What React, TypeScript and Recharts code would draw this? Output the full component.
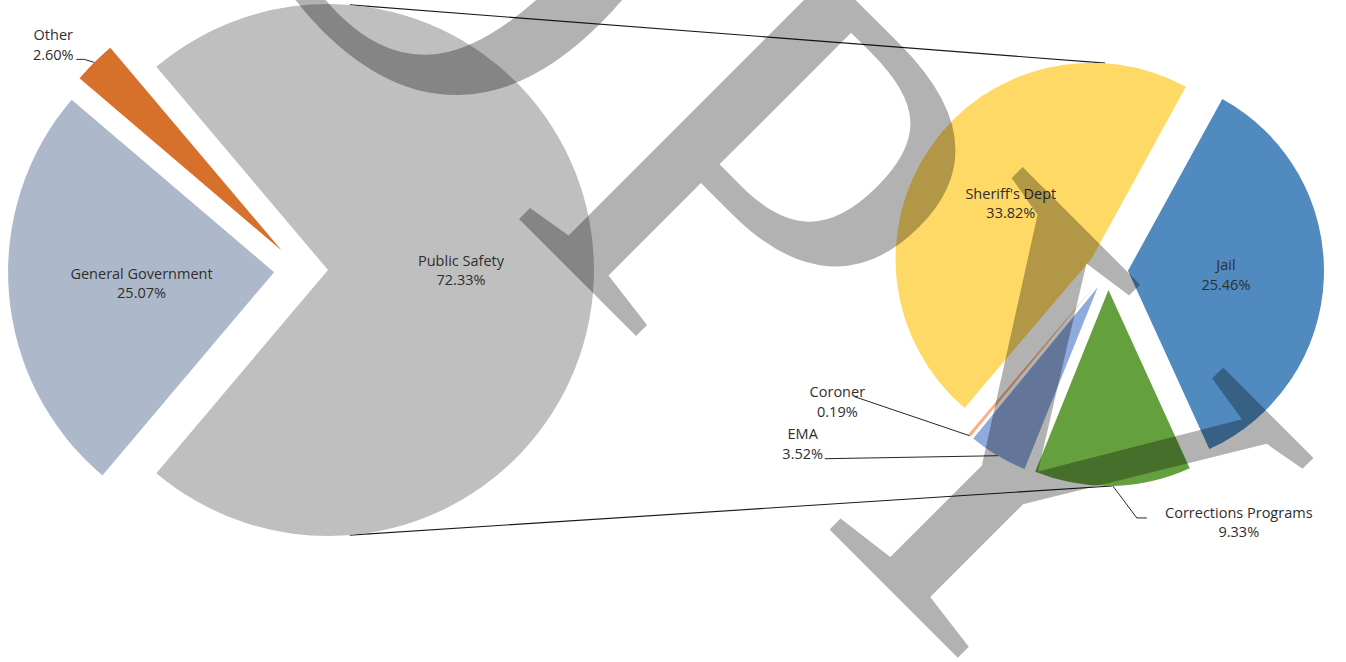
import React from 'react';
import { PieChart, Pie, Cell, Customized } from 'recharts';

// ---------- data ----------
const fundCategories = ['Public Safety', 'Other', 'General Government'];
const fundPercents = [72.33, 2.6, 25.07];
const safetyCategories = ['Jail', "Sheriff's Dept", 'Coroner', 'EMA', 'Corrections Programs'];
const safetyPercents = [25.46, 33.82, 0.19, 3.52, 9.33];

// ---------- styles ----------
const fundColors = ['#BFBFBF', '#D6702B', '#ADB9CA'];
const safetyColors = ['#508ABF', '#FFD966', '#F4B183', '#8FAADC', '#65A03F'];
const TEXT = '#2E2E2E';
const FONT = "'Open Sans', 'Noto Sans', sans-serif";

const W = 1346;
const H = 662;
const RAD = Math.PI / 180;

const fundData = fundCategories.map((name, i) => ({ name, value: fundPercents[i] }));
const safetyData = safetyCategories.map((name, i) => ({ name, value: safetyPercents[i] }));

const sum = (a: number[]) => a.reduce((s, v) => s + v, 0);
const fundStart = -(fundPercents[0] / sum(fundPercents)) * 180;

type Geom = { cx: number; cy: number; r: number; start: number; end: number; explode: number };
const LEFT: Geom = { cx: 301, cy: 270, r: 266, start: fundStart, end: fundStart + 360, explode: 27 };
const RIGHT: Geom = { cx: 1108, cy: 270, r: 196, start: -65.5, end: 294.5, explode: 20 };

function midAngles(values: number[], start: number, end: number) {
  const total = sum(values);
  let acc = start;
  return values.map((v) => {
    const span = ((end - start) * v) / total;
    const m = acc + span / 2;
    acc += span;
    return m;
  });
}
const polar = (x: number, y: number, r: number, a: number) => ({
  x: x + r * Math.cos(a * RAD),
  y: y - r * Math.sin(a * RAD),
});
const sliceOrigin = (g: Geom, mid: number) => polar(g.cx, g.cy, g.explode, mid);

const fundMids = midAngles(fundPercents, LEFT.start, LEFT.end);
const safetyMids = midAngles(safetyPercents, RIGHT.start, RIGHT.end);

// label placement (layout only)
type Spot =
  | { kind: 'inside' }
  | { kind: 'outside'; dx: number; dy: number; leader: number[][] };
const labelSpots: Record<string, Spot> = {
  'Public Safety': { kind: 'inside' },
  'General Government': { kind: 'inside' },
  Other: { kind: 'outside', dx: -41, dy: -18, leader: [[31, 15], [23, 15]] },
  Jail: { kind: 'inside' },
  "Sheriff's Dept": { kind: 'inside' },
  Coroner: { kind: 'outside', dx: -132, dy: -34, leader: [[17, -5]] },
  EMA: { kind: 'outside', dx: -195, dy: -12, leader: [[22, 15]] },
  'Corrections Programs': { kind: 'outside', dx: 126, dy: 36, leader: [[-102, -4], [-92, -4]] },
};

function TwoLines({ x, y, a, b }: { x: number; y: number; a: string; b: string }) {
  const common = {
    x,
    textAnchor: 'middle' as const,
    dominantBaseline: 'central' as const,
    fontFamily: FONT,
    fontSize: 14.5,
    fill: TEXT,
  };
  return (
    <g>
      <text {...common} y={y - 9.75}>{a}</text>
      <text {...common} y={y + 9.75}>{b}</text>
    </g>
  );
}

function renderLabel(p: any) {
  const name: string = p.name ?? p.payload?.name;
  const value: number = p.value ?? p.payload?.value;
  const spot = labelSpots[name];
  const pct = `${Number(value).toFixed(2)}%`;
  const { cx, cy, midAngle, outerRadius } = p;
  if (!spot || spot.kind === 'inside') {
    const c = polar(cx, cy, outerRadius * 0.5, midAngle);
    return <TwoLines x={c.x} y={c.y} a={name} b={pct} />;
  }
  const arc = polar(cx, cy, outerRadius, midAngle);
  const bx = arc.x + spot.dx;
  const by = arc.y + spot.dy;
  const pts = [[arc.x, arc.y], ...spot.leader.map(([lx, ly]) => [bx + lx, by + ly])];
  return (
    <g>
      <polyline
        points={pts.map((q) => q.join(',')).join(' ')}
        fill="none"
        stroke="#262626"
        strokeWidth={1}
      />
      <TwoLines x={bx} y={by} a={name} b={pct} />
    </g>
  );
}

function Connectors() {
  const ps = sliceOrigin(LEFT, fundMids[0]);
  const sh = sliceOrigin(RIGHT, safetyMids[1]);
  const co = sliceOrigin(RIGHT, safetyMids[4]);
  const a1 = polar(ps.x, ps.y, LEFT.r, 85.3);
  const b1 = polar(sh.x, sh.y, RIGHT.r, 86);
  const a2 = polar(ps.x, ps.y, LEFT.r, -85.3);
  const b2 = polar(co.x, co.y, RIGHT.r, 271);
  return (
    <g>
      <line x1={a1.x} y1={a1.y} x2={b1.x} y2={b1.y} stroke="#1a1a1a" strokeWidth={1.1} />
      <line x1={a2.x} y1={a2.y} x2={b2.x} y2={b2.y} stroke="#1a1a1a" strokeWidth={1.1} />
    </g>
  );
}

function ExplodedPie(
  data: { name: string; value: number }[],
  colors: string[],
  g: Geom,
  mids: number[],
  prefix: string
) {
  return data.map((d, i) => {
    const o = sliceOrigin(g, mids[i]);
    return (
      <Pie
        key={`${prefix}${i}`}
        name={`${prefix}${i}`}
        data={data}
        dataKey="value"
        nameKey="name"
        cx={o.x}
        cy={o.y}
        innerRadius={0}
        outerRadius={g.r}
        startAngle={g.start}
        endAngle={g.end}
        stroke="none"
        isAnimationActive={false}
        labelLine={false}
        label={(p: any) => (p.index === i ? renderLabel(p) : null)}
      >
        {data.map((e, j) => (
          <Cell key={j} fill={j === i ? colors[j] : 'none'} stroke="none" />
        ))}
      </Pie>
    );
  });
}

// watermark placement (decoration)
const WM_SIZE = 600;
const WM_X = -110;
const WM_Y = -410;

export default function App() {
  return (
    <div style={{ position: 'absolute', left: 0, top: 0, width: W, height: H, background: '#fff' }}>
      <PieChart width={W} height={H} margin={{ top: 0, right: 0, bottom: 0, left: 0 }}>
        {ExplodedPie(fundData, fundColors, LEFT, fundMids, 'f')}
        {ExplodedPie(safetyData, safetyColors, RIGHT, safetyMids, 's')}
        <Customized component={<Connectors />} />
      </PieChart>
      <svg
        width={W}
        height={H}
        style={{ position: 'absolute', left: 0, top: 0, pointerEvents: 'none' }}
      >
        <text
          x={WM_X}
          y={WM_Y}
          transform={`rotate(45 ${WM_X} ${WM_Y})`}
          fontFamily="'Liberation Serif', serif"
          fontSize={WM_SIZE}
          fill="#000"
          fillOpacity={0.3}
        >
          <tspan>CO</tspan>
          <tspan dx={35}>PY</tspan>
        </text>
      </svg>
    </div>
  );
}
